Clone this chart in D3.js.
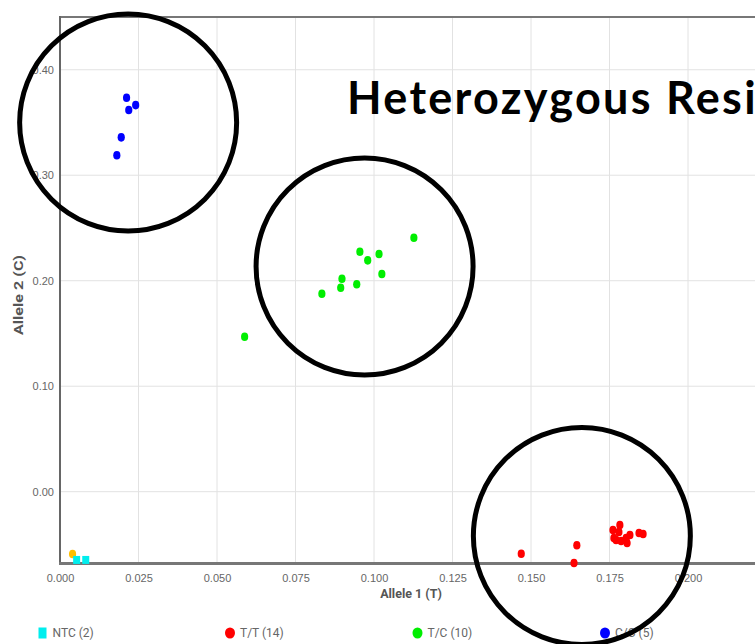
<!DOCTYPE html>
<html>
<head>
<meta charset="utf-8">
<script src="https://cdn.jsdelivr.net/npm/d3@7"></script>
<style>
  body { margin: 0; background: #fff; overflow: hidden; }
  svg { display: block; font-family: Roboto, "Liberation Sans", sans-serif; }
  .grid line { stroke: #e2e2e2; stroke-width: 1; }
  .tick text { fill: #666; font-size: 11px; }
</style>
</head>
<body>
<div id="chart"></div>
<script>
// genotype clusters (Allele 1 = T, Allele 2 = C)
var ntcX = [0.0053, 0.0082];
var ntcY = [-0.0647, -0.0647];

var ttX = [0.1761, 0.1783, 0.1780, 0.1764, 0.1771, 0.1787, 0.1806, 0.1815, 0.1803, 0.1844, 0.1857, 0.1469, 0.1646, 0.1637];
var ttY = [-0.0363, -0.0316, -0.0382, -0.0439, -0.0458, -0.0467, -0.0486, -0.0410, -0.0439, -0.0391, -0.0401, -0.0588, -0.0508, -0.0676];

var tcX = [0.1127, 0.0955, 0.1016, 0.0980, 0.1025, 0.0898, 0.0894, 0.0945, 0.0834, 0.0588];
var tcY = [0.2408, 0.2275, 0.2253, 0.2193, 0.2063, 0.2019, 0.1934, 0.1966, 0.1877, 0.1469];

var ccX = [0.0212, 0.0219, 0.0241, 0.0195, 0.0181];
var ccY = [0.3735, 0.3618, 0.3665, 0.3359, 0.3189];

var undetX = [0.0040];
var undetY = [-0.0591];

var xTicks = [0, 0.025, 0.05, 0.075, 0.1, 0.125, 0.15, 0.175, 0.2];
var gridX = [0.025, 0.05, 0.075, 0.1, 0.125, 0.15, 0.175, 0.2, 0.225];
var yTicks = [0, 0.1, 0.2, 0.3, 0.4];

var legendLabels = ["NTC (2)", "T/T (14)", "T/C (10)", "C/C (5)"];
var legendColors = ["#00eeee", "#ff0000", "#00ee00", "#0000ff"];

// hand drawn highlight rings (centres in data units)
var ringX = [0.0217, 0.0970, 0.1662];
var ringY = [0.3500, 0.2135, -0.0420];

var titleText = "Heterozygous Resi";

var width = 755,
    height = 644,
    margin = {top: 17, left: 60, bottom: 81};

var svg = d3.select("#chart")
    .append("svg")
    .attr("width", width)
    .attr("height", height);

var x = d3.scaleLinear()
    .domain([0, 0.25])
    .range([margin.left, margin.left + 3140 * 0.25]);

var y = d3.scaleLinear()
    .domain([-0.0676, 0.45])
    .range([height - margin.bottom, margin.top]);

var x0 = x.range()[0], x1 = x.range()[1];
var yBot = y.range()[0], yTop = y.range()[1];

// grid
svg.append("g")
    .attr("class", "grid")
    .selectAll("line.v")
    .data(gridX)
    .enter().append("line")
    .attr("x1", x).attr("x2", x)
    .attr("y1", yTop).attr("y2", yBot);

svg.append("g")
    .attr("class", "grid")
    .selectAll("line.h")
    .data(yTicks)
    .enter().append("line")
    .attr("x1", x0).attr("x2", x1)
    .attr("y1", y).attr("y2", y);

// axes
var xAxis = svg.append("g")
    .attr("transform", "translate(0," + yBot + ")")
    .call(d3.axisBottom(x).tickValues(xTicks).tickFormat(d3.format(".3f")).tickSize(0).tickPadding(11));
xAxis.select(".domain").remove();

var yAxis = svg.append("g")
    .attr("transform", "translate(" + x0 + ",0)")
    .call(d3.axisLeft(y).tickValues(yTicks).tickFormat(d3.format(".2f")).tickSize(0).tickPadding(6));
yAxis.select(".domain").remove();

svg.append("line")
    .attr("x1", x0).attr("x2", x1)
    .attr("y1", yTop).attr("y2", yTop)
    .style("stroke", "#777").style("stroke-width", 2);

svg.append("line")
    .attr("x1", x0).attr("x2", x0)
    .attr("y1", yTop - 1).attr("y2", yBot)
    .style("stroke", "#666").style("stroke-width", 2);

svg.append("line")
    .attr("x1", x0 - 1).attr("x2", x1)
    .attr("y1", yBot + 0.5).attr("y2", yBot + 0.5)
    .style("stroke", "#777").style("stroke-width", 3);

// axis titles
svg.append("text")
    .attr("x", 411)
    .attr("y", yBot + 35)
    .attr("text-anchor", "middle")
    .style("font-size", "12.5px")
    .style("font-weight", "bold")
    .style("fill", "#555")
    .text("Allele 1 (T)");

svg.append("text")
    .attr("transform", "translate(23," + ((yTop + yBot) / 2 + 5) + ") rotate(-90)")
    .attr("text-anchor", "middle")
    .attr("textLength", 80)
    .attr("lengthAdjust", "spacingAndGlyphs")
    .style("font-size", "12.5px")
    .style("font-weight", "bold")
    .style("fill", "#555")
    .text("Allele 2 (C)");

// points
function zip(xs, ys) {
    return xs.map(function (d, i) { return {x: d, y: ys[i]}; });
}

var dots = svg.append("g");

[
    {pts: zip(ttX, ttY), color: legendColors[1]},
    {pts: zip(tcX, tcY), color: legendColors[2]},
    {pts: zip(ccX, ccY), color: legendColors[3]},
    {pts: zip(undetX, undetY), color: "#ffbf00"}
].forEach(function (s) {
    dots.selectAll(null)
        .data(s.pts)
        .enter().append("ellipse")
        .attr("cx", function (d) { return x(d.x); })
        .attr("cy", function (d) { return y(d.y); })
        .attr("rx", 3.6)
        .attr("ry", 4.3)
        .style("fill", s.color);
});

dots.selectAll("rect")
    .data(zip(ntcX, ntcY))
    .enter().append("rect")
    .attr("x", function (d) { return x(d.x) - 3.5; })
    .attr("y", function (d) { return y(d.y) - 4; })
    .attr("width", 7)
    .attr("height", 8)
    .style("fill", legendColors[0]);

// legend
var lx = d3.scalePoint().domain(legendLabels).range([42.5, 605]);
var legend = svg.append("g")
    .selectAll("g")
    .data(legendLabels)
    .enter().append("g")
    .attr("transform", function (d) { return "translate(" + lx(d) + ",633)"; });

legend.each(function (d, i) {
    var g = d3.select(this);
    if (i === 0) {
        g.append("rect").attr("x", -4).attr("y", -5.5).attr("width", 8).attr("height", 11)
            .style("fill", legendColors[i]);
    } else {
        g.append("ellipse").attr("rx", 5).attr("ry", 5.5).style("fill", legendColors[i]);
    }
    g.append("text")
        .attr("x", 10)
        .attr("dy", "0.35em")
        .style("font-size", "12px")
        .style("fill", "#666")
        .text(d);
});

// highlight rings
svg.append("g")
    .selectAll("circle")
    .data(zip(ringX, ringY))
    .enter().append("circle")
    .attr("cx", function (d) { return x(d.x); })
    .attr("cy", function (d) { return y(d.y); })
    .attr("r", 108.5)
    .style("fill", "none")
    .style("stroke", "#000")
    .style("stroke-width", 5);

// title
svg.append("text")
    .attr("x", 347)
    .attr("y", 114)
    .style("font-family", "Lato, 'Open Sans', sans-serif")
    .style("font-weight", "bold")
    .style("font-size", "45px")
    .style("letter-spacing", "2.3px")
    .style("fill", "#000")
    .text(titleText);
</script>
</body>
</html>
